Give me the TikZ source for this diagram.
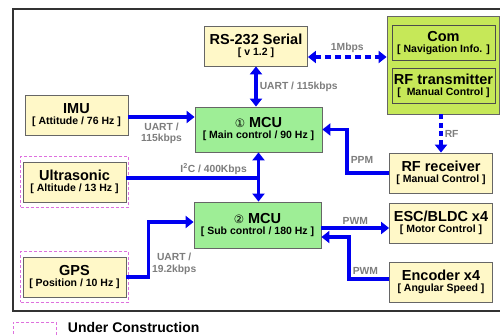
\documentclass[tikz,border=0pt]{standalone}
\usepackage{fontspec}
\setmainfont{Liberation Sans}
\newfontfamily\symfont{DejaVu Sans}
\usetikzlibrary{arrows.meta, positioning, calc, fit}
\definecolor{cCream}{RGB}{255,248,200}
\definecolor{cMcu}{RGB}{158,238,150}
\definecolor{cLime}{RGB}{198,232,88}
\definecolor{cBlue}{RGB}{0,0,240}
\definecolor{cLabel}{RGB}{125,125,125}
\definecolor{cPink}{RGB}{222,112,222}
\newcommand{\ttl}[2]{{\fontsize{14.5}{15}\selectfont #1}\\[-1pt]{\fontsize{10.5}{12}\selectfont #2}}
\newcommand{\circnum}[1]{{\symfont\mdseries\fontsize{11.5}{11}\selectfont #1}}
\tikzset{
	dev/.style   ={rectangle, draw=black!60, line width=0.8pt, fill=cCream, minimum width=103pt, minimum height=40pt, align=center, inner sep=1pt, font=\bfseries},
	mcu/.style   ={dev, fill=cMcu, minimum width=127pt, minimum height=45pt},
	radio/.style ={dev, fill=cLime, draw=black!70, minimum width=103pt, minimum height=35pt},
	uc/.style    ={rectangle, draw=cPink, densely dashed, thick, inner xsep=2pt, inner ysep=5pt},
	sig/.style   ={-{Triangle[length=8pt, width=12pt]}, line width=3.5pt, draw=cBlue},
	bisig/.style ={sig, {Triangle[length=8pt, width=12pt]}-{Triangle[length=8pt, width=12pt]}},
	wire/.style  ={line width=3.5pt, draw=cBlue},
	rflink/.style={dash pattern=on 6pt off 4pt},
	lbl/.style   ={font=\bfseries\fontsize{10.3}{11.5}\selectfont, text=cLabel, inner sep=2pt, align=center},
}
\begin{document}
\begin{tikzpicture}[x=1pt, y=-1pt]
	\useasboundingbox (0,0) rectangle (500,336);
	% outer frame
	\draw[line width=1.5pt, black!80] (500,9) -- (13,9) -- (13,311) -- (500,311);
	% devices
	\node[dev] (rs) at (256,46) {\ttl{RS-232 Serial}{[ v 1.2 ]}};
	\node[dev, fill=cLime, minimum width=112pt, minimum height=98pt] (comrf) at (443,65) {};
	\node[radio] (com) at (443.5,43) {\ttl{Com}{[ Navigation Info. ]}};
	\node[radio] (rftx) at (443.5,85.5) {\ttl{RF transmitter}{[ \ Manual Control ]}};
	\node[dev] (imu) at (76.5,115) {\ttl{IMU}{[ Attitude / 76 Hz ]}};
	\node[mcu] (mcuA) at (258.5,129.5) {\ttl{\circnum{①} MCU}{[ Main control / 90 Hz ]}};
	\node[mcu, minimum height=46pt] (mcuB) at (257.5,225) {\ttl{\circnum{②} MCU}{[ Sub control / 180 Hz ]}};
	\node[dev] (ultra) at (74.5,182) {\ttl{Ultrasonic}{[ Altitude / 13 Hz ]}};
	\node[dev] (gps) at (74.5,277) {\ttl{GPS}{[ Position / 10 Hz ]}};
	\node[dev] (rfrx) at (441,173) {\ttl{RF receiver}{[ Manual Control ]}};
	\node[dev] (esc) at (441,223) {\ttl{ESC/BLDC x4}{[ Motor Control ]}};
	\node[dev] (enc) at (441,282) {\ttl{Encoder x4}{[ Angular Speed ]}};
	% not finished yet
	\node[uc, fit=(ultra)] (ultraUC) {};
	\node[uc, fit=(gps)] (gpsUC) {};
	\node[uc, minimum width=43pt, minimum height=20pt, inner sep=0pt] (ucbox) at (34.5,332) {};
	\node[font=\bfseries\fontsize{14}{15}\selectfont, right=8pt of ucbox.east, yshift=5pt] (uclbl) {Under Construction};
	% links
	\draw[bisig] (rs.south) -- (rs.south |- mcuA.north) node[lbl, midway, right] {UART / 115kbps};
	\draw[bisig, rflink] ([yshift=-11pt]rs.east) -- ([yshift=-11pt]rs.east -| comrf.west) node[lbl, midway, above, yshift=1pt] {1Mbps};
	\draw[sig] ([yshift=-2pt]imu.east) -- ([yshift=-2pt]imu.east -| mcuA.west) node[lbl, midway, below, yshift=-2pt] {UART /\\115kbps};
	\draw[wire] ([yshift=4pt]ultra.east) -- ([yshift=4pt]ultra.east -| mcuA.south) node[lbl, pos=0.66, above] {I\textsuperscript{2}C / 400Kbps};
	\draw[bisig] (mcuA.south) -- (mcuA.south |- mcuB.north);
	\draw[sig] (gps.east) -- ++(22,0) |- ([yshift=3pt]mcuB.west) node[lbl, pos=0.12, right] {UART /\\19.2kbps};
	\draw[sig, dash pattern=on 5pt off 3.5pt] (comrf.south -| rfrx.north) -- (rfrx.north) node[lbl, midway, right] {RF};
	\draw[sig] (rfrx.west) -- ++(-42,0) |- (mcuA.east) node[lbl, pos=0.15, right] {PPM};
	\draw[sig] ([yshift=-3pt]mcuB.east) -- ([yshift=-3pt]mcuB.east -| esc.west) node[lbl, midway, above] {PWM};
	\draw[sig] ([yshift=3pt]enc.west) -- ++(-40,0) |- ([yshift=-12pt]mcuB.east) node[lbl, pos=0.1, right] {PWM};
\end{tikzpicture}
\end{document}
